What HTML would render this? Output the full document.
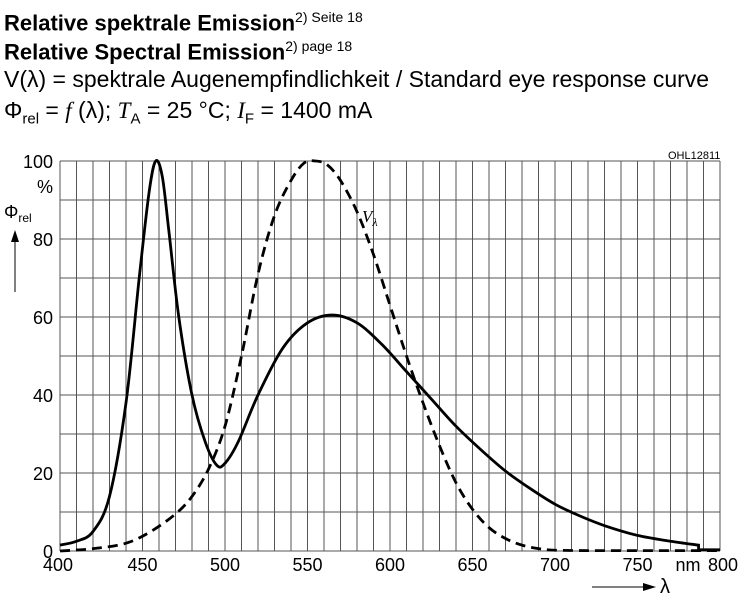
<!DOCTYPE html>
<html><head><meta charset="utf-8"><style>
body{margin:0;background:#fff;width:750px;height:601px;overflow:hidden;font-family:"Liberation Sans",sans-serif}
.t{position:absolute;left:4px;font-size:23px;line-height:26px;color:#000;white-space:nowrap}
</style></head><body>
<div class="t" style="top:4px;font-weight:bold;font-size:22px">Relative spektrale Emission<sup style="font-size:14px;font-weight:normal">2) Seite 18</sup></div>
<div class="t" style="top:33px;font-weight:bold;font-size:22px">Relative Spectral Emission<sup style="font-size:14px;font-weight:normal">2) page 18</sup></div>
<div class="t" style="top:66px">V(λ) = spektrale Augenempfindlichkeit / Standard eye response curve</div>
<div class="t" style="top:97px">Φ<sub style="font-size:15px">rel</sub> = <i style="font-family:'Liberation Serif',serif">f</i> (λ); <i style="font-family:'Liberation Serif',serif">T</i><sub style="font-size:15px">A</sub> = 25 °C; <i style="font-family:'Liberation Serif',serif">I</i><sub style="font-size:15px">F</sub> = 1400 mA</div>
<svg id="s" width="750" height="601" style="position:absolute;left:0;top:0" font-family="Liberation Sans, sans-serif">
</svg>
<script>
var s=document.getElementById('s'),h='';
function X(l){return 60+(l-400)*1.65}function Y(v){return 551-v*3.9}
for(var l=400;l<=800;l+=10)h+='<line x1="'+X(l)+'" y1="161" x2="'+X(l)+'" y2="551" stroke="#555" stroke-width="1"/>';
for(var v=0;v<=100;v+=10)h+='<line x1="60" y1="'+Y(v)+'" x2="720" y2="'+Y(v)+'" stroke="#555" stroke-width="1"/>';
[0,20,40,60,80,100].forEach(function(v){h+='<text x="53" y="'+(Y(v)+7)+'" font-size="18" text-anchor="end">'+v+'</text>'});
h+='<text x="53" y="193" font-size="18" text-anchor="end">%</text>';
[400,450,500,550,600,650,700,750,800].forEach(function(l){h+='<text x="'+(l==400?X(l)-2:l==800?X(l)+3:X(l))+'" y="571" font-size="18" text-anchor="middle">'+l+'</text>'});
h+='<text x="688" y="571" font-size="18" text-anchor="middle">nm</text>';
h+='<text x="668" y="159" font-size="11">OHL12811</text>';
h+='<text x="4" y="218" font-size="18">Φ<tspan font-size="12" dy="4">rel</tspan></text>';
h+='<line x1="15" y1="240" x2="15" y2="292" stroke="#000"/><polygon points="11,242 19,242 15,230" fill="#000"/>';
h+='<line x1="592" y1="587" x2="645" y2="587" stroke="#000"/><polygon points="643,583 643,591 656,587" fill="#000"/><text x="660" y="593" font-size="20">λ</text>';
h+='<text x="362" y="222" font-size="17" font-style="italic" font-family="Liberation Serif,serif">V<tspan font-size="12" dy="4">λ</tspan></text>';
function path(p){var pts=p.map(function(a){return[X(a[0]),Y(a[1])]});var d='M'+pts[0][0]+','+pts[0][1];
for(var i=0;i<pts.length-1;i++){var p0=pts[i-1]||pts[i],p1=pts[i],p2=pts[i+1],p3=pts[i+2]||p2;
d+=' C'+(p1[0]+(p2[0]-p0[0])/6)+','+(p1[1]+(p2[1]-p0[1])/6)+' '+(p2[0]-(p3[0]-p1[0])/6)+','+(p2[1]-(p3[1]-p1[1])/6)+' '+p2[0]+','+p2[1];}return d}
var A=[[400,1.5],[410,2.5],[420,5],[430,14],[440,38],[448,70],[454,92],[458,100],[462,96],[466,82],[472,60],[480,40],[488,28],[495,22],[500,22.5],[508,28],[520,40],[535,52],[550,58.5],[565,60.5],[580,58.5],[595,53],[610,46],[625,39],[640,32],[655,26],[670,20.5],[685,16],[700,12],[715,9],[730,6.5],[750,4],[770,2.5],[787,1.5]];
var B=[[400,0],[420,0.6],[440,2],[455,5],[470,9.5],[480,14],[490,21],[500,32],[510,50],[520,71],[530,86],[540,95],[548,99.5],[555,100],[562,99],[570,95],[580,87],[590,76],[600,63],[610,50],[620,38],[630,27],[640,17.5],[650,10.7],[660,6],[670,3.2],[680,1.5],[690,0.6],[700,0.2],[720,0.1]];
h+='<path d="'+path(A)+' L'+X(787)+','+Y(0.3)+' L'+X(800)+','+Y(0.3)+'" fill="none" stroke="#000" stroke-width="2.8"/>';
h+='<path d="'+path(B)+' L'+X(800)+','+Y(0.1)+'" fill="none" stroke="#000" stroke-width="2.8" stroke-dasharray="10,6"/>';
s.innerHTML=h;
</script>
</body></html>
